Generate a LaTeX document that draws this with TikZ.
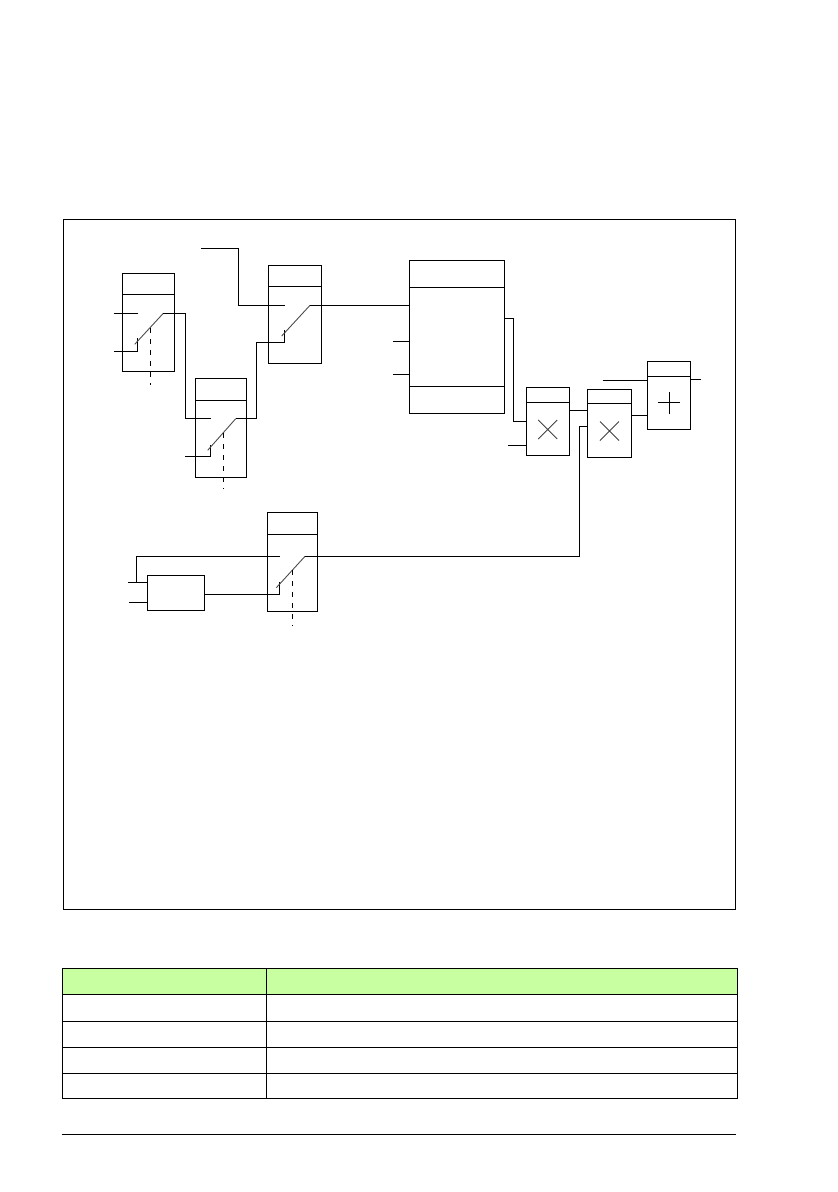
\documentclass[tikz,border=0pt]{standalone}
\usepackage{xcolor}
\usepackage{tikz}
\usetikzlibrary{positioning,shapes.misc}
\definecolor{headgreen}{HTML}{C8FFA0}

\begin{document}
\begin{tikzpicture}[
    x=1pt, y=-1pt,
    node distance=0pt,
    line width=0.9pt,
    box/.style={draw, rectangle, anchor=north west, inner sep=0pt, outer sep=0pt, minimum width=#1},
    head/.style={draw, rectangle, inner sep=0pt, outer sep=0pt, minimum width=#1},
    cell/.style={draw, rectangle, anchor=north west, inner sep=0pt, outer sep=0pt},
    lever/.style={black!70},
    ctrl/.style={dash pattern=on 5pt off 6pt},
    times/.style={draw=black!75, cross out, inner sep=0pt, outer sep=0pt, minimum width=19pt, minimum height=19pt}
]
\useasboundingbox (0,0) rectangle (838,1192);
\node[cell, minimum width=672pt, minimum height=690pt] (frame) at (63.5,219.5) {};

% switch blocks
\node[box=52pt, minimum height=77pt] (sw1) at (122.3,294.3) {};
\node[head=52pt, minimum height=21pt, above=of sw1] (sw1h) {};
\node[box=51pt, minimum height=77pt] (sw2) at (195.3,400.3) {};
\node[head=51pt, minimum height=22pt, above=of sw2] (sw2h) {};
\node[box=53pt, minimum height=77pt] (sw3) at (268.3,286.3) {};
\node[head=53pt, minimum height=21pt, above=of sw3] (sw3h) {};
\node[box=50pt, minimum height=77pt] (sw4) at (267.3,534.3) {};
\node[head=50pt, minimum height=22pt, above=of sw4] (sw4h) {};
\node[box=57pt, minimum height=35pt] (cmp) at (147.3,575.3) {};

% large block
\node[box=95pt, minimum height=99pt] (lim) at (409.3,287.3) {};
\node[head=95pt, minimum height=27pt, above=of lim] (limh) {};
\node[head=95pt, minimum height=27pt, below=of lim] (limf) {};

% arithmetic blocks
\node[box=43pt, minimum height=53pt] (mul1) at (526.3,402.3) {};
\node[head=43pt, minimum height=15pt, above=of mul1] (mul1h) {};
\node[box=44pt, minimum height=54pt] (mul2) at (587.3,403.3) {};
\node[head=44pt, minimum height=14pt, above=of mul2] (mul2h) {};
\node[box=43.4pt, minimum height=53pt] (add) at (647.3,376.3) {};
\node[head=43.4pt, minimum height=15pt, above=of add] (addh) {};
\node[times] (mul1x) at (547.7,429.5) {};
\node[times] (mul2x) at (609.5,431) {};
\draw (658,402.3) -- (680,402.3);
\draw (669.3,392) -- (669.3,414);

% free ends and contacts
\coordinate (s1in1) at (114,313.3);
\coordinate (s1in2) at (114,351.3);
\coordinate (s1a) at (137.7,313.3);
\coordinate (s1b) at (137.5,338);
\coordinate (s1c) at (134.7,344.3);
\coordinate (s1d) at (163.3,313.3);
\coordinate (s1e) at (150.5,328);
\coordinate (s1f) at (150.5,385);
\coordinate (s2in1) at (185.3,418.7);
\coordinate (s2in2) at (185,456.3);
\coordinate (s2a) at (210.7,418.7);
\coordinate (s2b) at (210.3,445);
\coordinate (s2c) at (207.7,450.3);
\coordinate (s2d) at (235.7,418.7);
\coordinate (s2e) at (223.3,433);
\coordinate (s2f) at (223.3,489);
\coordinate (s2j) at (256.3,342.3);
\coordinate (s3in1) at (201,248.3);
\coordinate (s3j) at (238.3,305.3);
\coordinate (s3a) at (285,305.3);
\coordinate (s3b) at (284.3,330);
\coordinate (s3c) at (281.7,336);
\coordinate (s3d) at (310,305.3);
\coordinate (s4a) at (280,556.3);
\coordinate (s4b) at (279.3,581.7);
\coordinate (s4c) at (276.3,587.7);
\coordinate (s4d) at (305,556.3);
\coordinate (s4e) at (292.3,570);
\coordinate (s4f) at (292.3,626);
\coordinate (cin1) at (128,582.3);
\coordinate (cin2) at (129,602.3);
\coordinate (cj) at (136.3,582.3);
\coordinate (cout) at (204.3,594.3);
\coordinate (lin1) at (393,341.3);
\coordinate (lin2) at (393,374.3);
\coordinate (lout) at (504.3,318.3);
\coordinate (lj) at (513.3,421.7);
\coordinate (m1in) at (508,445.3);
\coordinate (m1out) at (569.3,410.3);
\coordinate (m2j) at (579.3,426.3);
\coordinate (m2out) at (631.3,415.3);
\coordinate (ain) at (602.7,380.3);
\coordinate (aout) at (700.7,379.3);

% connectors
\draw (s1in1) -- (s1a);
\draw (s1in2) -| (s1b);
\draw[lever] (s1c) -- (s1d);
\draw[ctrl] (s1e) -- (s1f);
\draw (s1d) -| (s2in1) -- (s2a);
\draw (s2in2) -| (s2b);
\draw[lever] (s2c) -- (s2d);
\draw[ctrl] (s2e) -- (s2f);
\draw (s2d) -| (s2j) -| (s3b);
\draw (s3in1) -| (s3j) -- (s3a);
\draw[lever] (s3c) -- (s3d);
\draw (s3d) -- (s3d -| lim.west);
\draw (lin1) -- (lin1 -| lim.west);
\draw (lin2) -- (lin2 -| lim.west);
\draw (lout) -| (lj) -- (lj -| mul1.west);
\draw (m1in) -- (m1in -| mul1.west);
\draw (m1out) -- (m1out -| mul2.west);
\draw (m2out) -- (m2out -| add.west);
\draw (ain) -- (ain -| add.west);
\draw (add.east |- aout) -- (aout);
\draw (s4a) -| (cj);
\draw (cin1) -- (cin1 -| cmp.west);
\draw (cin2) -- (cin2 -| cmp.west);
\draw (cout) -| (s4b);
\draw[lever] (s4c) -- (s4d);
\draw[ctrl] (s4e) -- (s4f);
\draw (s4d) -| (m2j) -- (m2j -| mul2.west);

% table
\node[cell, fill=headgreen, minimum width=204pt, minimum height=26pt] (t0a) at (62.3,968.3) {};
\node[cell, fill=headgreen, minimum width=471.1pt, minimum height=26pt] (t0b) at (266.3,968.3) {};
\foreach \n/\ya/\hh in {1/994.3/27, 2/1021.3/26, 3/1047.3/26, 4/1073.3/25} {
    \node[cell, minimum width=204pt, minimum height=\hh pt] (t\n a) at (62.3,\ya) {};
    \node[cell, minimum width=471.1pt, minimum height=\hh pt] (t\n b) at (266.3,\ya) {};
}

% page rule
\coordinate (rulea) at (62.3,1134);
\coordinate (ruleb) at (736,1134);
\draw (rulea) -- (ruleb);
\end{tikzpicture}
\end{document}
